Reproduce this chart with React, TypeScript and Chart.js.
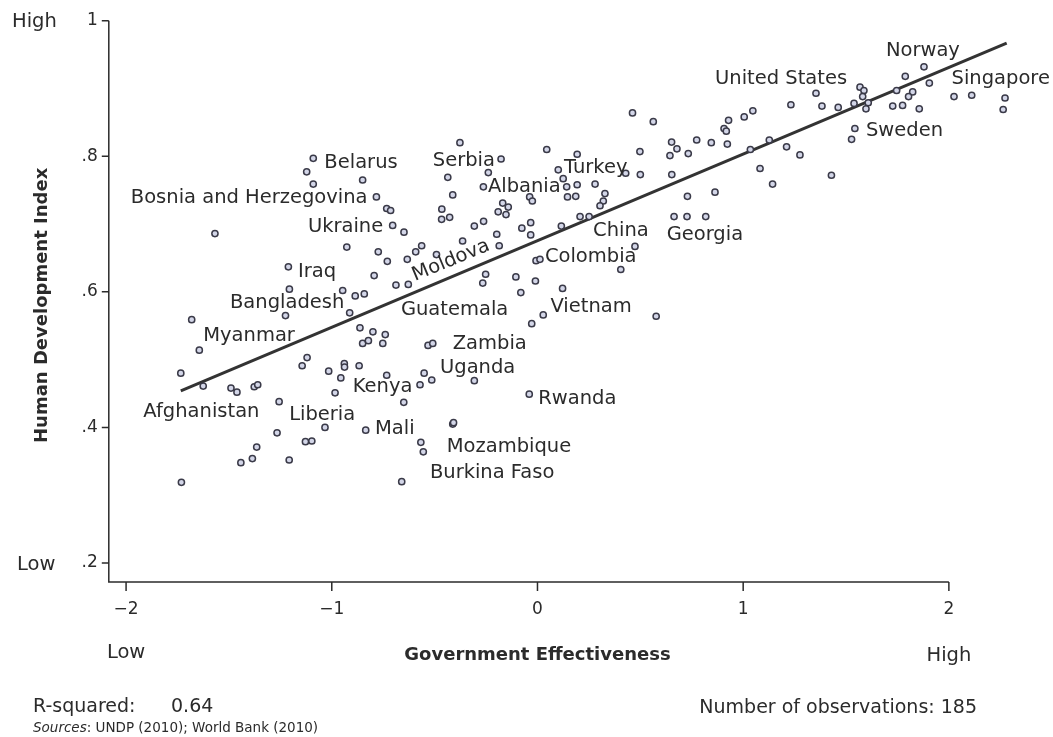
import React, { useEffect, useRef } from "react";
import { Chart, registerables } from "chart.js";

Chart.register(...registerables);

// Government Effectiveness (x) and Human Development Index (y) per country
const govEffectiveness = [
  -1.090, -1.122, -1.090, -0.850, -0.783, -0.733, -0.714, -0.704, -0.649, -1.568,
  -0.927, -0.774, -0.730, -0.633, -0.592, -0.563, -0.491, -1.211, -0.794, -0.688,
  -0.628, -1.206, -0.947, -0.886, -0.842, -0.913, -1.225, -1.681, -0.863, -0.800,
  -0.740, -0.850, -0.822, -0.752, -0.532, -0.509, -1.644, -1.734, -1.625, -1.490,
  -1.461, -1.377, -1.360, -1.144, -1.120, -1.015, -0.956, -0.939, -0.938, -0.867,
  -0.733, -0.984, -0.650, -0.551, -0.514, -0.571, -1.256, -1.266, -1.033, -0.835,
  -1.365, -1.128, -1.097, -1.442, -1.386, -1.207, -1.731, -0.660, -0.567, -0.555,
  -0.412, -0.408, -0.307, -0.040,
  -0.377, -0.436, -0.412, -0.465, -0.466, -0.427, -0.177, -0.239, -0.263, 0.045,
  0.193, 0.462, 0.563, 0.498, 0.101, 0.125, 0.142, 0.193, 0.280, 0.146,
  0.186, 0.429, 0.500, 0.328, 0.320, 0.304, -0.038, -0.025, -0.169, -0.142,
  -0.191, -0.153, -0.262, -0.307, -0.198, -0.076, -0.033, -0.033, 0.116, 0.207,
  0.251, -0.364, -0.186, 0.474, -0.007, 0.012, 0.405, -0.252, -0.266, -0.105,
  -0.010, -0.081, 0.122, 0.028, -0.028, 0.577,
  0.652, 0.678, 0.644, 0.733, 0.774, 0.845, 0.923, 0.907, 0.918, 0.929,
  1.005, 1.047, 0.653, 0.729, 0.863, 0.664, 0.727, 0.818, 1.035, 1.127,
  1.211, 1.276, 1.082, 1.143, 1.429, 1.232, 1.354, 1.383, 1.462, 1.568,
  1.587, 1.581, 1.539, 1.608, 1.597, 1.543, 1.527, 1.879, 1.788, 1.905,
  1.746, 1.824, 1.804, 1.727, 1.775, 1.856, 2.025, 2.111, 2.273, 2.264,
];

const humanDevelopment = [
  0.797, 0.777, 0.759, 0.765, 0.740, 0.723, 0.720, 0.698, 0.688, 0.686,
  0.666, 0.659, 0.645, 0.648, 0.659, 0.668, 0.655, 0.637, 0.624, 0.610,
  0.611, 0.604, 0.602, 0.594, 0.597, 0.569, 0.565, 0.559, 0.547, 0.541,
  0.537, 0.524, 0.528, 0.524, 0.521, 0.524, 0.514, 0.480, 0.461, 0.458,
  0.452, 0.460, 0.463, 0.491, 0.503, 0.483, 0.473, 0.494, 0.489, 0.491,
  0.477, 0.451, 0.437, 0.480, 0.470, 0.463, 0.438, 0.392, 0.400, 0.396,
  0.371, 0.379, 0.380, 0.348, 0.354, 0.352, 0.319, 0.320, 0.378, 0.364,
  0.405, 0.407, 0.469, 0.449,
  0.820, 0.769, 0.743, 0.722, 0.707, 0.710, 0.796, 0.776, 0.755, 0.810,
  0.803, 0.864, 0.851, 0.807, 0.780, 0.767, 0.755, 0.758, 0.759, 0.740,
  0.741, 0.775, 0.773, 0.745, 0.734, 0.727, 0.740, 0.734, 0.731, 0.725,
  0.718, 0.714, 0.704, 0.697, 0.685, 0.694, 0.702, 0.684, 0.697, 0.711,
  0.711, 0.675, 0.668, 0.667, 0.646, 0.648, 0.633, 0.626, 0.613, 0.622,
  0.616, 0.599, 0.605, 0.566, 0.553, 0.564,
  0.821, 0.811, 0.801, 0.804, 0.824, 0.820, 0.818, 0.841, 0.837, 0.853,
  0.858, 0.867, 0.773, 0.741, 0.747, 0.711, 0.711, 0.711, 0.810, 0.824,
  0.814, 0.802, 0.782, 0.759, 0.772, 0.876, 0.893, 0.874, 0.872, 0.902,
  0.897, 0.888, 0.878, 0.879, 0.870, 0.841, 0.825, 0.932, 0.918, 0.908,
  0.897, 0.895, 0.888, 0.874, 0.875, 0.870, 0.888, 0.890, 0.886, 0.869,
];

// fitted regression line end points
const fitX = [-1.734, 2.281];
const fitY = [0.454, 0.967];

// country labels (anchored at their text start, in data units)
const labelNames = [
  "Norway", "United States", "Singapore", "Sweden", "Belarus", "Serbia", "Turkey",
  "Albania", "Bosnia and Herzegovina", "Ukraine", "China", "Georgia", "Colombia",
  "Iraq", "Bangladesh", "Guatemala", "Vietnam", "Myanmar", "Zambia", "Uganda",
  "Kenya", "Rwanda", "Afghanistan", "Liberia", "Mali", "Mozambique", "Burkina Faso",
  "Moldova",
];
const labelX = [
  1.694, 0.863, 2.013, 1.597, -1.036, -0.509, 0.129,
  -0.241, -1.977, -1.116, 0.270, 0.628, 0.036,
  -1.164, -1.495, -0.664, 0.063, -1.625, -0.412, -0.474,
  -0.898, 0.004, -1.916, -1.207, -0.790, -0.441, -0.523,
  -0.595,
];
const labelY = [
  0.948, 0.907, 0.906, 0.830, 0.782, 0.786, 0.775,
  0.748, 0.731, 0.689, 0.682, 0.676, 0.644,
  0.622, 0.576, 0.566, 0.571, 0.528, 0.515, 0.480,
  0.453, 0.434, 0.416, 0.411, 0.391, 0.364, 0.325,
  0.616,
];
const labelAngle = [
  0, 0, 0, 0, 0, 0, 0, 0, 0, 0, 0, 0, 0, 0, 0, 0, 0, 0, 0, 0, 0, 0, 0, 0, 0, 0, 0,
  -22.5,
];

const yTickValues = [1, 0.8, 0.6, 0.4, 0.2];
const yTickLabels = ["1", ".8", ".6", ".4", ".2"];
const xTickValues = [-2, -1, 0, 1, 2];
const xTickLabels = ["\u22122", "\u22121", "0", "1", "2"];

const FONT = "'DejaVu Sans', sans-serif";
const INK = "#2b2b2b";

const overlay = {
  id: "overlay",
  beforeDatasetsDraw(chart: any) {
    const { ctx, chartArea, scales } = chart;
    const xs = scales.x;
    const ys = scales.y;
    const left = chartArea.left;
    const bottom = chartArea.bottom;
    ctx.save();
    ctx.strokeStyle = INK;
    ctx.lineWidth = 1.5;
    ctx.beginPath();
    ctx.moveTo(left, ys.getPixelForValue(yTickValues[0]));
    ctx.lineTo(left, bottom);
    ctx.lineTo(xs.getPixelForValue(xTickValues[xTickValues.length - 1]), bottom);
    yTickValues.forEach((v) => {
      const py = ys.getPixelForValue(v);
      ctx.moveTo(left - 7, py);
      ctx.lineTo(left, py);
    });
    xTickValues.forEach((v) => {
      const px = xs.getPixelForValue(v);
      ctx.moveTo(px, bottom);
      ctx.lineTo(px, bottom + 9);
    });
    ctx.stroke();

    ctx.fillStyle = INK;
    ctx.font = `17px ${FONT}`;
    ctx.textAlign = "right";
    ctx.textBaseline = "middle";
    yTickValues.forEach((v, i) => {
      ctx.fillText(yTickLabels[i], left - 11, ys.getPixelForValue(v));
    });
    ctx.textAlign = "center";
    xTickValues.forEach((v, i) => {
      ctx.fillText(xTickLabels[i], xs.getPixelForValue(v), bottom + 28);
    });

    ctx.font = `19.5px ${FONT}`;
    ctx.textAlign = "left";
    ctx.fillText("High", 12, ys.getPixelForValue(1) + 1);
    ctx.fillText("Low", 17, ys.getPixelForValue(0.2) + 2);
    ctx.textAlign = "center";
    ctx.fillText("Low", xs.getPixelForValue(-2), bottom + 71);
    ctx.fillText("High", xs.getPixelForValue(2), bottom + 74);

    ctx.font = `bold 18px ${FONT}`;
    ctx.fillText("Government Effectiveness", xs.getPixelForValue(0), bottom + 73);
    ctx.save();
    ctx.translate(42, (ys.getPixelForValue(1) + bottom) / 2 + 4);
    ctx.rotate(-Math.PI / 2);
    ctx.fillText("Human Development Index", 0, 0);
    ctx.restore();

    ctx.font = `19px ${FONT}`;
    ctx.textAlign = "left";
    ctx.fillText("R-squared:", 33, 707);
    ctx.fillText("0.64", 171, 707);
    ctx.textAlign = "right";
    ctx.fillText("Number of observations: 185", 977, 708);
    ctx.textAlign = "left";
    ctx.font = `italic 13.5px ${FONT}`;
    ctx.fillText("Sources", 33, 728);
    const w = ctx.measureText("Sources").width;
    ctx.font = `13.5px ${FONT}`;
    ctx.fillText(": UNDP (2010); World Bank (2010)", 33 + w, 728);
    ctx.restore();
  },
  afterDatasetsDraw(chart: any) {
    const { ctx, scales } = chart;
    ctx.save();
    ctx.fillStyle = INK;
    ctx.font = `19.5px ${FONT}`;
    ctx.textAlign = "left";
    ctx.textBaseline = "alphabetic";
    labelNames.forEach((name, i) => {
      const px = scales.x.getPixelForValue(labelX[i]);
      const py = scales.y.getPixelForValue(labelY[i]);
      ctx.save();
      ctx.translate(px, py);
      ctx.rotate((labelAngle[i] * Math.PI) / 180);
      ctx.fillText(name, 0, 0);
      ctx.restore();
    });
    ctx.restore();
  },
};

export default function App() {
  const canvasRef = useRef<HTMLCanvasElement | null>(null);

  useEffect(() => {
    if (!canvasRef.current) return;
    const points = govEffectiveness.map((x, i) => ({ x, y: humanDevelopment[i] }));
    const fit = fitX.map((x, i) => ({ x, y: fitY[i] }));
    const chart = new Chart(canvasRef.current, {
      type: "scatter",
      data: {
        datasets: [
          {
            type: "scatter",
            label: "Countries",
            data: points,
            pointRadius: 3.1,
            pointBorderWidth: 1.5,
            pointBackgroundColor: "#d3d6e8",
            pointBorderColor: "#3a3a48",
            order: 1,
            clip: false,
          } as any,
          {
            type: "line",
            label: "Fit",
            data: fit,
            borderColor: "#333333",
            borderWidth: 3,
            pointRadius: 0,
            showLine: true,
            order: 2,
            clip: false,
          } as any,
        ],
      },
      options: {
        animation: false,
        responsive: false,
        maintainAspectRatio: false,
        layout: {
          autoPadding: false,
          padding: { left: 108.8, top: 20.7, right: 13, bottom: 155 },
        },
        scales: {
          x: { type: "linear", min: -2.084, max: 2.443, display: false },
          y: { type: "linear", min: 0.172, max: 1, display: false },
        },
        plugins: {
          legend: { display: false },
          tooltip: { enabled: false },
        },
      } as any,
      plugins: [overlay],
    });
    return () => chart.destroy();
  }, []);

  return (
    <div style={{ position: "absolute", left: 0, top: 0, width: 1053, height: 737, background: "#fff" }}>
      <canvas ref={canvasRef} width={1053} height={737} style={{ display: "block" }} />
    </div>
  );
}
